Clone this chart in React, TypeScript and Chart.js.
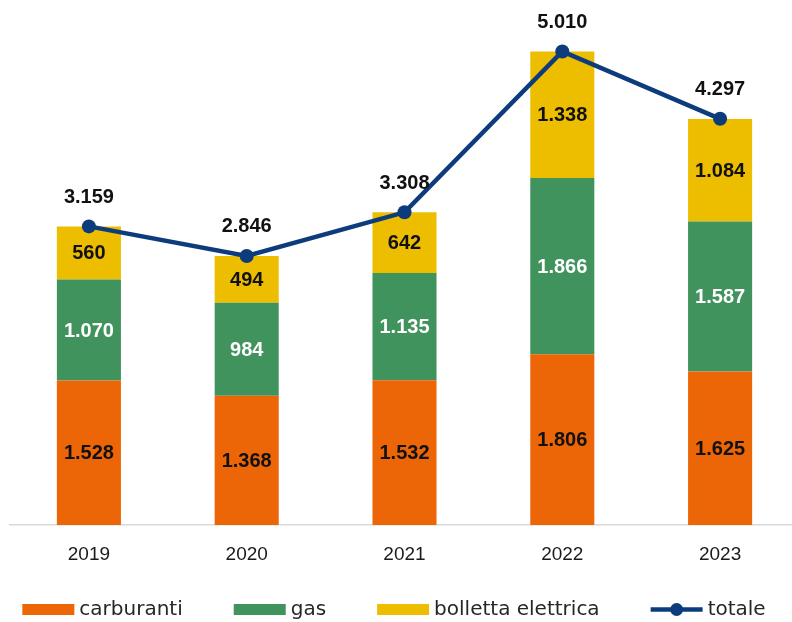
import React, { useEffect, useRef } from "react";
import { Chart, registerables } from "chart.js";

Chart.register(...registerables);

const categories = ["2019", "2020", "2021", "2022", "2023"];
const carburanti = [1528, 1368, 1532, 1806, 1625];
const gas = [1070, 984, 1135, 1866, 1587];
const bolletta = [560, 494, 642, 1338, 1084];
const totale = [3159, 2846, 3308, 5010, 4297];

const ORANGE = "#EC6608";
const GREEN = "#41935E";
const YELLOW = "#EDBD00";
const NAVY = "#0C3C7C";

const fmt = (n: number) => String(n).replace(/\B(?=(\d{3})+(?!\d))/g, ".");

const labelsPlugin = {
  id: "valueLabels",
  afterDatasetsDraw(chart: any) {
    const ctx = chart.ctx;
    ctx.save();
    ctx.font = "bold 20px 'Liberation Sans', Arial, sans-serif";
    ctx.textAlign = "center";
    ctx.textBaseline = "middle";
    chart.data.datasets.forEach((ds: any, di: number) => {
      const meta = chart.getDatasetMeta(di);
      meta.data.forEach((el: any, i: number) => {
        const v = ds.data[i];
        if (ds.type === "line") {
          ctx.fillStyle = "#111";
          ctx.fillText(fmt(v), el.x, el.y - 29);
        } else {
          const mid = (el.y + el.base) / 2;
          ctx.fillStyle = ds.labelColor;
          ctx.fillText(fmt(v), el.x, mid + 1);
        }
      });
    });
    ctx.restore();
  },
};

const legendPlugin = {
  id: "customLegend",
  afterDraw(chart: any) {
    const ctx = chart.ctx;
    const items = [
      { text: "carburanti", color: ORANGE, line: false },
      { text: "gas", color: GREEN, line: false },
      { text: "bolletta elettrica", color: YELLOW, line: false },
      { text: "totale", color: NAVY, line: true },
    ];
    const sw = 52, sh = 11, gapText = 5, gapItem = 51;
    const y = 609.5;
    ctx.save();
    ctx.font = "20px 'DejaVu Sans', sans-serif";
    ctx.textBaseline = "middle";
    ctx.textAlign = "left";
    const widths = items.map((it) => sw + gapText + ctx.measureText(it.text).width);
    const total = widths.reduce((a, b) => a + b, 0) + gapItem * (items.length - 1);
    let x = 394 - total / 2;
    items.forEach((it, i) => {
      if (it.line) {
        ctx.strokeStyle = it.color;
        ctx.lineWidth = 4.5;
        ctx.beginPath();
        ctx.moveTo(x, y);
        ctx.lineTo(x + sw, y);
        ctx.stroke();
        ctx.fillStyle = it.color;
        ctx.beginPath();
        ctx.arc(x + sw / 2, y, 6.5, 0, Math.PI * 2);
        ctx.fill();
      } else {
        ctx.fillStyle = it.color;
        ctx.fillRect(x, y - sh / 2, sw, sh);
      }
      ctx.fillStyle = "#262626";
      ctx.fillText(it.text, x + sw + gapText, y);
      x += widths[i] + gapItem;
    });
    ctx.restore();
  },
};

export default function App() {
  const ref = useRef<HTMLCanvasElement>(null);
  useEffect(() => {
    if (!ref.current) return;
    const chart = new Chart(ref.current, {
      type: "bar",
      data: {
        labels: categories,
        datasets: [
          {
            type: "line",
            label: "totale",
            data: totale,
            borderColor: NAVY,
            backgroundColor: NAVY,
            borderWidth: 4.5,
            pointRadius: 7,
            pointBackgroundColor: NAVY,
            pointBorderWidth: 0,
            stack: "line",
            order: 0,
            tension: 0,
          } as any,
          {
            label: "carburanti",
            data: carburanti,
            backgroundColor: ORANGE,
            stack: "s",
            order: 1,
            labelColor: "#111",
          } as any,
          {
            label: "gas",
            data: gas,
            backgroundColor: GREEN,
            stack: "s",
            order: 1,
            labelColor: "#ffffff",
          } as any,
          {
            label: "bolletta elettrica",
            data: bolletta,
            backgroundColor: YELLOW,
            stack: "s",
            order: 1,
            labelColor: "#111",
          } as any,
        ],
      },
      options: {
        responsive: false,
        animation: false,
        datasets: { bar: { barPercentage: 0.406, categoryPercentage: 1 } },
        layout: { padding: { left: 10, right: 11, top: 4, bottom: 58 } },
        plugins: {
          legend: { display: false },
          tooltip: { enabled: false },
        },
        scales: {
          x: {
            stacked: true,
            grid: { display: false, drawTicks: false, tickLength: 0 },
            border: { display: true, color: "#D9D9D9", width: 1.5 },
            afterFit: (scale: any) => {
              scale.height = 39;
            },
            ticks: {
              padding: 18,
              maxRotation: 0,
              color: "#1a1a1a",
              font: { family: "'Liberation Sans', Arial, sans-serif", size: 19 },
            },
          },
          y: {
            stacked: true,
            display: false,
            min: 0,
            max: 5480,
          },
        },
      },
      plugins: [labelsPlugin, legendPlugin],
    });
    return () => chart.destroy();
  }, []);
  return (
    <div
      style={{
        position: "fixed",
        left: 0,
        top: 0,
        width: 792,
        height: 622,
        overflow: "hidden",
        background: "#fff",
      }}
    >
      <canvas ref={ref} width={810} height={622} style={{ display: "block" }} />
    </div>
  );
}
